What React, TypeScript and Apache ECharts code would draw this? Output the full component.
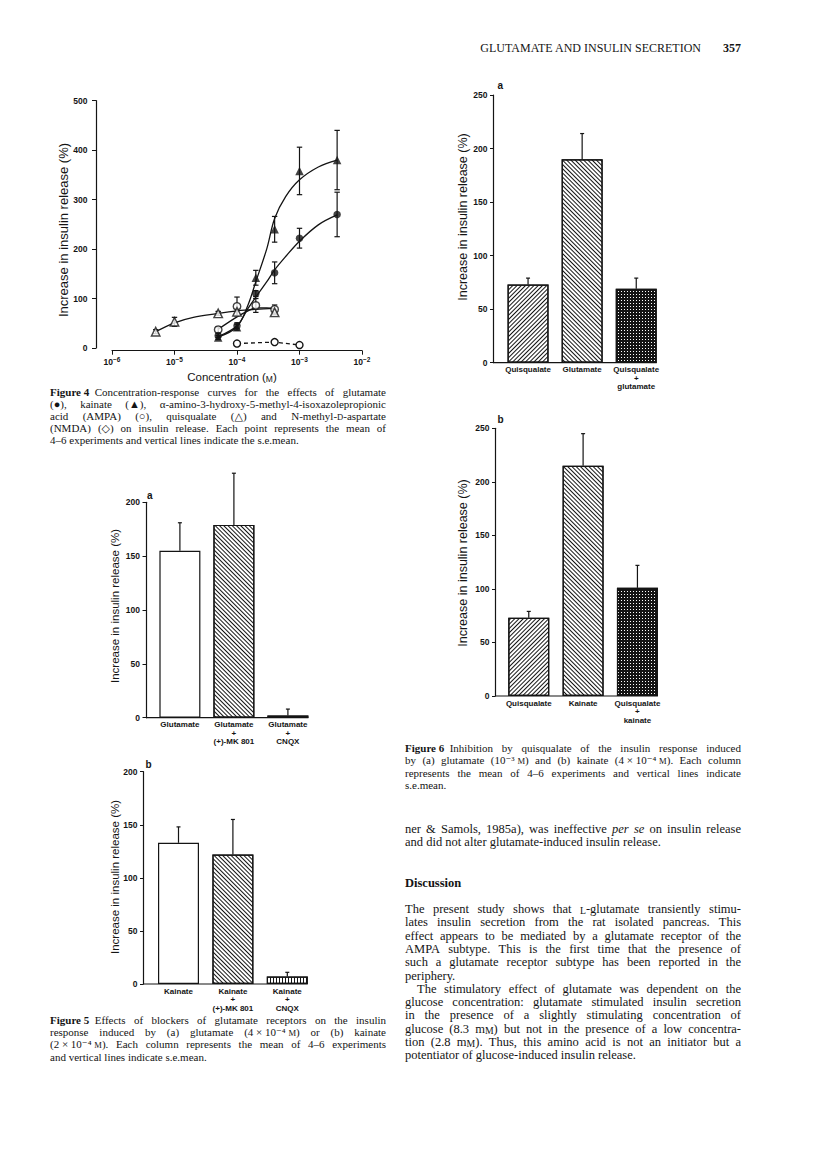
import React, { useEffect, useRef } from "react";
import * as echarts from "echarts";

const SANS = '"Liberation Sans", Arial, "DejaVu Sans", sans-serif';
const SERIF = '"Liberation Serif", "Times New Roman", "DejaVu Serif", serif';
const INK = "#141414";

// ---------------- Figure 4 data (concentration M, % increase) ----------------
const fig4YTicks = [0, 100, 200, 300, 400, 500];
const glutConc = [5e-5, 1e-4, 2e-4, 4e-4, 1e-3, 4e-3];
const glutMean = [25, 45, 110, 152, 222, 270];
const glutSem = [4, 6, 6, 22, 20, 45];
const kaiConc = [5e-5, 1e-4, 2e-4, 4e-4, 1e-3, 4e-3];
const kaiMean = [21, 42, 142, 240, 358, 380];
const kaiSem = [4, 6, 15, 26, 48, 60];
const ampaConc = [5e-5, 1e-4, 2e-4, 4e-4];
const ampaMean = [37, 84, 86, 78];
const ampaSem = [6, 19, 14, 9];
const quisConc = [5e-6, 1e-5, 5e-5, 1e-4, 4e-4];
const quisMean = [33, 53, 70, 73, 72];
const quisSem = [4, 9, 4, 7, 5];
const nmdaConc = [1e-4, 4e-4, 1e-3];
const nmdaMean = [9, 12, 6];
const nmdaSem = [3, 3, 2];
// fitted curves
const glutFitConc = [5e-5, 1e-4, 1.5e-4, 2e-4, 3e-4, 4e-4, 6e-4, 1e-3, 2e-3, 4e-3];
const glutFit = [23, 45, 80, 103, 134, 158, 185, 216, 249, 269];
const kaiFitConc = [5e-5, 1e-4, 1.5e-4, 2e-4, 3e-4, 4e-4, 6e-4, 1e-3, 2e-3, 4e-3];
const kaiFit = [22, 43, 87, 134, 201, 262, 306, 340, 366, 380];
const quisFitConc = [5e-6, 1e-5, 2e-5, 5e-5, 1e-4, 2e-4, 4e-4];
const quisFit = [33, 51, 62, 70, 75, 78, 80];
const ampaFitConc = [5e-5, 1e-4, 1.5e-4, 2e-4, 3e-4, 4e-4];
const ampaFit = [38, 63, 75, 81, 81, 80];

// ---------------- Figures 5 and 6 data ----------------
const fig5aCats = ["Glutamate", "Glutamate\n+\n(+)-MK 801", "Glutamate\n+\nCNQX"];
const fig5aMean = [155, 179, 2];
const fig5aSem = [26, 48, 6];
const fig5bCats = ["Kainate", "Kainate\n+\n(+)-MK 801", "Kainate\n+\nCNQX"];
const fig5bMean = [133, 122, 7];
const fig5bSem = [15, 33, 4];
const fig6aCats = ["Quisqualate", "Glutamate", "Quisqualate\n+\nglutamate"];
const fig6aMean = [73, 190, 69];
const fig6aSem = [6, 24, 10];
const fig6bCats = ["Quisqualate", "Kainate", "Quisqualate\n+\nkainate"];
const fig6bMean = [73, 215, 101];
const fig6bSem = [6, 30, 21];

const yTitle = "Increase in insulin release (%)";

// ---------------- Page text ----------------
const headerTitle = "GLUTAMATE AND INSULIN SECRETION";
const headerPage = "357";
const fig4Caption = [
  "{b|Figure\u00a04}\u2002Concentration-response curves for the effects of glutamate",
  "(●), kainate (▲), α-amino-3-hydroxy-5-methyl-4-isoxazolepropionic",
  "acid (AMPA) (○), quisqualate (△) and N-methyl-{sc|D}-aspartate",
  "(NMDA) (◇) on insulin release. Each point represents the mean of",
  "4–6 experiments and vertical lines indicate the s.e.mean.",
];
const fig5Caption = [
  "{b|Figure\u00a05}\u2002Effects of blockers of glutamate receptors on the insulin",
  "response induced by (a) glutamate (4\u00a0×\u00a010⁻⁴\u00a0{sc|M}) or (b) kainate",
  "(2\u00a0×\u00a010⁻⁴\u00a0{sc|M}). Each column represents the mean of 4–6 experiments",
  "and vertical lines indicate s.e.mean.",
];
const fig6Caption = [
  "{b|Figure\u00a06}\u2002Inhibition by quisqualate of the insulin response induced",
  "by (a) glutamate (10⁻³\u00a0{sc|M}) and (b) kainate (4\u00a0×\u00a010⁻⁴\u00a0{sc|M}). Each column",
  "represents the mean of 4–6 experiments and vertical lines indicate",
  "s.e.mean.",
];
const bodyTop = [
  "ner & Samols, 1985a), was ineffective {i|per} {i|se} on insulin release",
  "and did not alter glutamate-induced insulin release.",
];
const discussionHeading = "Discussion";
const discussionPara1 = [
  "The present study shows that {sc|L}-glutamate transiently stimu-",
  "lates insulin secretion from the rat isolated pancreas. This",
  "effect appears to be mediated by a glutamate receptor of the",
  "AMPA subtype. This is the first time that the presence of",
  "such a glutamate receptor subtype has been reported in the",
  "periphery.",
];
const discussionPara2 = [
  "The stimulatory effect of glutamate was dependent on the",
  "glucose concentration: glutamate stimulated insulin secretion",
  "in the presence of a slightly stimulating concentration of",
  "glucose (8.3 m{sc|M}) but not in the presence of a low concentra-",
  "tion (2.8 m{sc|M}). Thus, this amino acid is not an initiator but a",
  "potentiator of glucose-induced insulin release.",
];

// ---------------- Layout (pixels) ----------------
const G4 = { left: 112, top: 100.7, width: 250, height: 247.3, yAxisX: 96, xOff: 2.7 };
const G5a = { left: 152.9, top: 502.3, width: 162, height: 215.4, yAxisX: 146 };
const G5b = { left: 151.3, top: 771.7, width: 163.2, height: 212.3, yAxisX: 143.5 };
const G6a = { left: 501, top: 95, width: 162.3, height: 267.7, yAxisX: 493.5 };
const G6b = { left: 501.6, top: 428.3, width: 163, height: 267.7, yAxisX: 495.5 };
const BAR_W = 41;
const LEFT_COL = { x: 50, w: 336 };
const RIGHT_COL = { x: 405, w: 336 };

// ---------------- text helpers ----------------
let mctx: CanvasRenderingContext2D | null = null;
function ctx() {
  if (!mctx) mctx = document.createElement("canvas").getContext("2d");
  return mctx!;
}
function segs(str: string) {
  const out: { s: string | null; t: string }[] = [];
  const re = /\{(\w+)\|([^}]*)\}/g;
  let last = 0;
  let m: RegExpExecArray | null;
  while ((m = re.exec(str))) {
    if (m.index > last) out.push({ s: null, t: str.slice(last, m.index) });
    out.push({ s: m[1], t: m[2] });
    last = re.lastIndex;
  }
  if (last < str.length) out.push({ s: null, t: str.slice(last) });
  return out;
}
function fontFor(style: string | null, size: number, weight = "normal") {
  if (style === "b") return `bold ${size}px ${SERIF}`;
  if (style === "i") return `italic ${size}px ${SERIF}`;
  if (style === "sc") return `${size * 0.78}px ${SERIF}`;
  return `${weight} ${size}px ${SERIF}`;
}
function measure(str: string, size: number, weight = "normal") {
  const c = ctx();
  let w = 0;
  for (const sg of segs(str)) {
    c.font = fontFor(sg.s, size, weight);
    w += c.measureText(sg.t).width;
  }
  return w;
}
function richFor(size: number) {
  return {
    b: { fontWeight: "bold", fontSize: size, fontFamily: SERIF, fill: INK, verticalAlign: "bottom" },
    i: { fontStyle: "italic", fontSize: size, fontFamily: SERIF, fill: INK, verticalAlign: "bottom" },
    sc: { fontSize: size * 0.78, fontFamily: SERIF, fill: INK, verticalAlign: "bottom" },
  };
}
function wordEl(w: string, x: number, y: number, size: number, weight = "normal", align = "left") {
  return {
    type: "text",
    x,
    y,
    silent: true,
    style: {
      text: w,
      fontSize: size,
      fontFamily: SERIF,
      fontWeight: weight,
      fill: INK,
      textAlign: align,
      align,
      textVerticalAlign: "middle",
      verticalAlign: "middle",
      rich: richFor(size),
    },
  };
}
type Ln = { text: string; justify: boolean; indent?: number };
function textBlock(lines: Ln[], x0: number, width: number, y0: number, lh: number, size0: number) {
  let size = size0;
  const nat = (ln: Ln, s: number) => {
    const ws = ln.text.split(" ");
    return ws.reduce((a, w) => a + measure(w, s), 0) + (ws.length - 1) * measure(" ", s) * 0.7 + (ln.indent || 0);
  };
  let maxRatio = 0;
  lines.forEach((ln) => {
    if (ln.justify) maxRatio = Math.max(maxRatio, nat(ln, size) / width);
  });
  if (maxRatio > 1) size = size / maxRatio;
  const els: any[] = [];
  lines.forEach((ln, i) => {
    const ws = ln.text.split(" ");
    const wd = ws.map((w) => measure(w, size));
    const total = wd.reduce((a, b) => a + b, 0);
    const avail = width - (ln.indent || 0);
    let gap = measure(" ", size);
    if (ln.justify && ws.length > 1) gap = (avail - total) / (ws.length - 1);
    let x = x0 + (ln.indent || 0);
    const y = y0 + i * lh;
    ws.forEach((w, j) => {
      els.push(wordEl(w, x, y, size));
      x += wd[j] + gap;
    });
  });
  return els;
}
const para = (arr: string[], indentFirst = 0): Ln[] =>
  arr.map((t, i) => ({ text: t, justify: i < arr.length - 1, indent: i === 0 ? indentFirst : 0 }));

// ---------------- chart helpers ----------------
function errorSeries(xi: number, yi: number, data: number[][], both: boolean, capW: number) {
  return {
    type: "custom",
    xAxisIndex: xi,
    yAxisIndex: yi,
    z: 3,
    silent: true,
    clip: false,
    data,
    encode: { x: 0, y: [1, 2] },
    renderItem: (_p: any, api: any) => {
      const x = api.value(0);
      const pLo = api.coord([x, api.value(1)]);
      const pHi = api.coord([x, api.value(2)]);
      const st = { stroke: INK, lineWidth: 1.2, fill: null };
      const children: any[] = [
        { type: "line", shape: { x1: pLo[0], y1: pLo[1], x2: pHi[0], y2: pHi[1] }, style: st },
        { type: "line", shape: { x1: pHi[0] - capW, y1: pHi[1], x2: pHi[0] + capW, y2: pHi[1] }, style: st },
      ];
      if (both)
        children.push({ type: "line", shape: { x1: pLo[0] - capW, y1: pLo[1], x2: pLo[0] + capW, y2: pLo[1] }, style: st });
      return { type: "group", children };
    },
  };
}
const pairs = (xs: number[], ys: number[]) => xs.map((x, i) => [x, ys[i]]);
const errs4 = (xs: number[], m: number[], s: number[]) => xs.map((x, i) => [x, m[i] - s[i], m[i] + s[i]]);
const errsBar = (m: number[], s: number[]) => m.map((v, i) => [i, v, v + s[i]]);

const tickLabel = { fontSize: 8.5, fontFamily: SANS, fontWeight: "bold", color: INK };
const axisLineStyle = { color: INK, width: 1.2 };

function barYAxis(gi: number, max: number, off: number) {
  return {
    type: "value",
    gridIndex: gi,
    min: 0,
    max,
    interval: 50,
    offset: off,
    axisLine: { show: true, onZero: false, lineStyle: axisLineStyle },
    axisTick: { show: true, length: 3.5, lineStyle: { color: INK, width: 1 } },
    axisLabel: { ...tickLabel, margin: 6 },
    splitLine: { show: false },
  };
}
function barXAxis(gi: number, cats: string[]) {
  return {
    type: "category",
    gridIndex: gi,
    data: cats,
    axisLine: { show: false },
    axisTick: { show: false },
    axisLabel: { fontSize: 8, lineHeight: 8.5, fontFamily: SANS, fontWeight: "bold", color: INK, margin: 3, interval: 0 },
    splitLine: { show: false },
  };
}
const WHITE = { color: "#fff" };
const hatchUp = { symbol: "rect", symbolSize: 1, dashArrayX: [1, 0], dashArrayY: [1, 2], rotation: Math.PI / 4, color: INK, backgroundColor: "#fff" };
const hatchDown = { symbol: "rect", symbolSize: 1, dashArrayX: [1, 0], dashArrayY: [1, 2], rotation: -Math.PI / 4, color: INK, backgroundColor: "#fff" };
const vStripe = { symbol: "rect", symbolSize: 1, dashArrayX: [1, 2], dashArrayY: [1, 0], color: INK, backgroundColor: "#fff" };
const dots = { symbol: "rect", symbolSize: 1, dashArrayX: [1, 2], dashArrayY: [1, 2], color: "#fff", backgroundColor: INK };

function barSeries(gi: number, vals: number[], styles: any[]) {
  return {
    type: "bar",
    xAxisIndex: gi,
    yAxisIndex: gi,
    barWidth: BAR_W,
    z: 2,
    silent: true,
    data: vals.map((v, i) => ({
      value: v,
      itemStyle: {
        color: styles[i].decal ? styles[i].decal.backgroundColor : "#fff",
        borderColor: INK,
        borderWidth: 1.2,
        decal: styles[i].decal,
      },
    })),
  };
}

function rotTitle(x: number, y: number, size: number) {
  return {
    type: "text",
    x,
    y,
    rotation: Math.PI / 2,
    silent: true,
    style: { text: yTitle, fontSize: size, fontFamily: SANS, fill: INK, textAlign: "center", align: "center", textVerticalAlign: "middle", verticalAlign: "middle" },
  };
}
function panelLetter(t: string, x: number, y: number) {
  return {
    type: "text",
    x,
    y,
    silent: true,
    style: { text: t, fontSize: 10, fontWeight: "bold", fontFamily: SANS, fill: INK, textAlign: "left", align: "left", textVerticalAlign: "middle", verticalAlign: "middle" },
  };
}
function baseline(g: any) {
  const band = g.width / 3;
  const x2 = g.left + 2.5 * band + BAR_W / 2;
  const y = g.top + g.height;
  return { type: "line", silent: true, shape: { x1: g.yAxisX, y1: y, x2, y2: y }, style: { stroke: INK, lineWidth: 1.2 } };
}

function buildOption() {
  const grids = [G4, G5a, G5b, G6a, G6b].map((g) => ({ left: g.left, top: g.top, width: g.width, height: g.height, containLabel: false }));

  const fitLine = (xs: number[], ys: number[]) => ({
    type: "line",
    xAxisIndex: 0,
    yAxisIndex: 0,
    data: pairs(xs, ys),
    smooth: 0.35,
    showSymbol: false,
    silent: true,
    z: 2,
    lineStyle: { color: INK, width: 1.3 },
  });
  const marker = (xs: number[], ys: number[], symbol: string, size: number, filled: boolean) => ({
    type: "scatter",
    xAxisIndex: 0,
    yAxisIndex: 0,
    data: pairs(xs, ys),
    symbol,
    symbolSize: size,
    silent: true,
    z: 4,
    itemStyle: filled ? { color: INK } : { color: "#fff", borderColor: INK, borderWidth: 1.4 },
  });

  const graphics: any[] = [];
  graphics.push(rotTitle(63, 230, 13));
  graphics.push(rotTitle(115, 606, 11.5));
  graphics.push(rotTitle(115, 877, 11.5));
  graphics.push(rotTitle(463, 217, 12.5));
  graphics.push(rotTitle(463, 563, 12.5));
  graphics.push({
    type: "text",
    x: 232,
    y: 377,
    silent: true,
    style: {
      text: "Concentration ({sc|M})",
      fontSize: 11.5,
      fontFamily: SANS,
      fill: INK,
      textAlign: "center",
      align: "center",
      textVerticalAlign: "middle",
      verticalAlign: "middle",
      rich: { sc: { fontSize: 8.5, fontFamily: SANS, fill: INK, verticalAlign: "bottom" } },
    },
  });
  graphics.push(panelLetter("a", G5a.yAxisX + 1, G5a.top - 7));
  graphics.push(panelLetter("b", G5b.yAxisX + 2, G5b.top - 7));
  graphics.push(panelLetter("a", G6a.yAxisX + 4, G6a.top - 10));
  graphics.push(panelLetter("b", G6b.yAxisX + 2, G6b.top - 9));
  [G5a, G5b, G6a, G6b].forEach((g) => graphics.push(baseline(g)));

  // header
  const colRight = RIGHT_COL.x + RIGHT_COL.w;
  graphics.push(wordEl(headerPage, colRight, 48, 12, "bold", "right"));
  graphics.push(wordEl(headerTitle, colRight - measure(headerPage, 12, "bold") - 22, 48, 12, "normal", "right"));
  // captions and body text
  graphics.push(...textBlock(para(fig4Caption), LEFT_COL.x, LEFT_COL.w, 392, 12, 11));
  graphics.push(...textBlock(para(fig5Caption), LEFT_COL.x, LEFT_COL.w, 1020, 12.2, 11));
  graphics.push(...textBlock(para(fig6Caption), RIGHT_COL.x, RIGHT_COL.w, 747.5, 12.6, 11));
  graphics.push(...textBlock(para(bodyTop), RIGHT_COL.x, RIGHT_COL.w, 829, 13.3, 12.5));
  graphics.push(wordEl(discussionHeading, RIGHT_COL.x, 883, 12.5, "bold"));
  graphics.push(...textBlock(para(discussionPara1), RIGHT_COL.x, RIGHT_COL.w, 909, 13.3, 12.5));
  graphics.push(...textBlock(para(discussionPara2, 12), RIGHT_COL.x, RIGHT_COL.w, 909 + 6 * 13.3, 13.3, 12.5));

  return {
    animation: false,
    backgroundColor: "#fff",
    grid: grids,
    xAxis: [
      {
        type: "log",
        gridIndex: 0,
        logBase: 10,
        min: 1e-6,
        max: 1e-2,
        offset: G4.xOff,
        axisLine: { show: true, onZero: false, lineStyle: axisLineStyle },
        axisTick: { show: true, length: 4, lineStyle: { color: INK, width: 1 } },
        minorTick: { show: false },
        axisLabel: {
          ...tickLabel,
          margin: 5,
          formatter: (v: number) => "{b|10}{s|−" + String(Math.abs(Math.round(Math.log10(v)))) + "}",
          rich: {
            b: { fontSize: 8.5, fontFamily: SANS, fontWeight: "bold", color: INK, verticalAlign: "bottom", lineHeight: 11 },
            s: { fontSize: 6.5, fontFamily: SANS, fontWeight: "bold", color: INK, verticalAlign: "bottom", lineHeight: 11, padding: [0, 0, 4, 0] },
          },
        },
        splitLine: { show: false },
      },
      barXAxis(1, fig5aCats),
      barXAxis(2, fig5bCats),
      barXAxis(3, fig6aCats),
      barXAxis(4, fig6bCats),
    ],
    yAxis: [
      {
        type: "value",
        gridIndex: 0,
        min: fig4YTicks[0],
        max: fig4YTicks[fig4YTicks.length - 1],
        interval: 100,
        offset: G4.left - G4.yAxisX,
        axisLine: { show: true, onZero: false, lineStyle: axisLineStyle },
        axisTick: { show: true, length: 4, lineStyle: { color: INK, width: 1 } },
        axisLabel: { ...tickLabel, margin: 8.5 },
        splitLine: { show: false },
      },
      barYAxis(1, 200, G5a.left - G5a.yAxisX),
      barYAxis(2, 200, G5b.left - G5b.yAxisX),
      barYAxis(3, 250, G6a.left - G6a.yAxisX),
      barYAxis(4, 250, G6b.left - G6b.yAxisX),
    ],
    series: [
      fitLine(glutFitConc, glutFit),
      fitLine(kaiFitConc, kaiFit),
      fitLine(quisFitConc, quisFit),
      fitLine(ampaFitConc, ampaFit),
      {
        type: "line",
        xAxisIndex: 0,
        yAxisIndex: 0,
        data: pairs(nmdaConc, nmdaMean),
        showSymbol: true,
        symbol: "circle",
        symbolSize: 7,
        silent: true,
        z: 4,
        lineStyle: { color: INK, width: 1.3, type: [4, 3] },
        itemStyle: { color: "#fff", borderColor: INK, borderWidth: 1.4 },
      },
      errorSeries(0, 0, errs4(glutConc, glutMean, glutSem), true, 2.7),
      errorSeries(0, 0, errs4(kaiConc, kaiMean, kaiSem), true, 2.7),
      errorSeries(0, 0, errs4(ampaConc, ampaMean, ampaSem), true, 2.7),
      errorSeries(0, 0, errs4(quisConc, quisMean, quisSem), true, 2.7),
      errorSeries(0, 0, errs4(nmdaConc, nmdaMean, nmdaSem), true, 2.7),
      marker(ampaConc, ampaMean, "circle", 7.5, false),
      marker(quisConc, quisMean, "triangle", 8.5, false),
      marker(glutConc, glutMean, "circle", 7.5, true),
      marker(kaiConc, kaiMean, "triangle", 8.5, true),

      barSeries(1, fig5aMean, [WHITE, { decal: hatchUp }, { decal: vStripe }]),
      errorSeries(1, 1, errsBar(fig5aMean, fig5aSem), false, 2),
      barSeries(2, fig5bMean, [WHITE, { decal: hatchUp }, { decal: vStripe }]),
      errorSeries(2, 2, errsBar(fig5bMean, fig5bSem), false, 2),
      barSeries(3, fig6aMean, [{ decal: hatchDown }, { decal: hatchUp }, { decal: dots }]),
      errorSeries(3, 3, errsBar(fig6aMean, fig6aSem), false, 2),
      barSeries(4, fig6bMean, [{ decal: hatchDown }, { decal: hatchUp }, { decal: dots }]),
      errorSeries(4, 4, errsBar(fig6bMean, fig6bSem), false, 2),
    ],
    graphic: { elements: graphics },
  };
}

export default function App() {
  const ref = useRef<HTMLDivElement>(null);
  useEffect(() => {
    document.body.style.margin = "0";
    const chart = echarts.init(ref.current!, null, { renderer: "svg" });
    chart.setOption(buildOption() as any);
    return () => chart.dispose();
  }, []);
  return (
    <div
      ref={ref}
      style={{ position: "absolute", left: 0, top: 0, width: 816, height: 1151, background: "#fff" }}
    />
  );
}
